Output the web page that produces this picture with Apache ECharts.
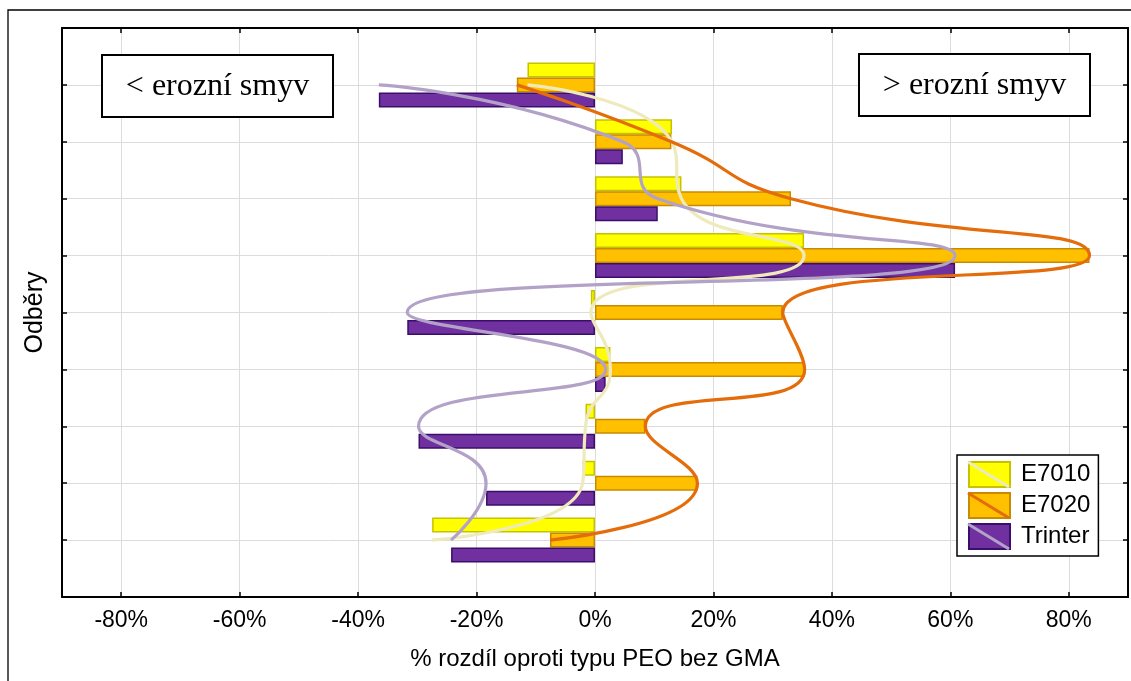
<!DOCTYPE html>
<html>
<head>
<meta charset="utf-8">
<script src="https://cdn.jsdelivr.net/npm/echarts@6/dist/echarts.min.js"></script>
<style>
html,body{margin:0;padding:0;background:#fff;}
#chart{width:1131px;height:681px;}
</style>
</head>
<body>
<div id="chart"></div>
<script>
// ---- data ----
const categories = ['1', '2', '3', '4', '5', '6', '7', '8', '9'];
const seriesNames = ['E7010', 'E7020', 'Trinter'];
const e7010 = [-11.4, 13.0, 14.6, 35.3, -0.7, 2.6, -1.6, -2.1, -27.5];
const e7020 = [-13.2, 12.9, 33.1, 83.5, 31.7, 35.4, 8.5, 17.3, -7.6];
const trinter = [-36.5, 4.7, 10.6, 60.8, -31.7, 1.8, -29.8, -18.4, -24.3];
const xTickStep = 20;
const xAxisTitle = '% rozdíl oproti typu PEO bez GMA';
const yAxisTitle = 'Odběry';
const noteLeft = '< erozní smyv';
const noteRight = '> erozní smyv';

// ---- styles ----
const barFill = ['#FFFF00', '#FFC000', '#7030A0'];
const barBorder = ['#C6C200', '#C88A00', '#3A0E6A'];
const curveColor = ['#EFEABB', '#E46C0A', '#B3A2C7'];
const SANS = '"Liberation Sans", Arial, sans-serif';
const SERIF = '"Liberation Serif", "Times New Roman", serif';

// category axis padded with an empty slot above and below
const yCats = ['top'].concat(categories, ['bottom']);
const pad = arr => ['-'].concat(arr, ['-']);
const allData = [e7010, e7020, trinter];

const chart = echarts.init(document.getElementById('chart'), null, {renderer: 'canvas'});

const legendLeft = 957, legendTop = 455, legendPad = [6, 8, 6, 11];
const iconW = 41, iconH = 25, itemPitch = 31, itemGap = 4;

const series = [];
allData.forEach((d, i) => {
  series.push({
    name: seriesNames[i], type: 'bar', data: pad(d),
    barWidth: 15, barGap: '0%', barCategoryGap: '0%',
    itemStyle: {color: barFill[i], borderColor: barBorder[i], borderWidth: 1.5},
    emphasis: {disabled: true}, z: 2
  });
});
allData.forEach((d, i) => {
  series.push({
    name: seriesNames[i], type: 'line', data: pad(d), smooth: 0.55,
    symbol: 'none', showSymbol: false,
    lineStyle: {color: curveColor[i], width: 3.2},
    itemStyle: {color: curveColor[i]},
    emphasis: {disabled: true}, z: 3
  });
});

const legendLines = seriesNames.map((n, i) => ({
  type: 'line', z: 100, silent: true,
  shape: {
    x1: legendLeft + legendPad[3], y1: legendTop + legendPad[0] + 1 + i * itemPitch,
    x2: legendLeft + legendPad[3] + iconW, y2: legendTop + legendPad[0] + 1 + i * itemPitch + iconH
  },
  style: {stroke: curveColor[i], lineWidth: 3}
}));

const option = {
  animation: false,
  backgroundColor: '#fff',
  grid: {left: 62, right: 3, top: 28, bottom: 84, containLabel: false},
  xAxis: [{
    type: 'value', position: 'bottom', min: -90, max: 90, splitNumber: 9,
    name: xAxisTitle, nameLocation: 'middle', nameGap: 50,
    nameTextStyle: {fontFamily: SANS, fontSize: 24, color: '#000'},
    axisLine: {show: true, onZero: false, lineStyle: {color: '#000', width: 2}},
    axisTick: {show: true, inside: true, length: 5, lineStyle: {color: '#000', width: 1.5}},
    axisLabel: {
      fontFamily: SANS, fontSize: 23, color: '#000', margin: 12,
      showMinLabel: false, showMaxLabel: false,
      formatter: v => (Math.round(v) % xTickStep === 0 ? Math.round(v) + '%' : '')
    },
    splitLine: {show: true, lineStyle: {color: '#DCDCDC', width: 1}}
  }, {
    type: 'value', position: 'top', min: -90, max: 90, splitNumber: 9,
    axisLine: {show: true, onZero: false, lineStyle: {color: '#000', width: 2}},
    axisTick: {show: true, inside: true, length: 5, lineStyle: {color: '#000', width: 1.5}},
    axisLabel: {show: false}, splitLine: {show: false}
  }],
  yAxis: [{
    type: 'category', data: yCats, inverse: true, boundaryGap: false, position: 'left',
    name: yAxisTitle, nameLocation: 'middle', nameGap: 14, nameRotate: 90,
    nameTextStyle: {fontFamily: SANS, fontSize: 25, color: '#000'},
    axisLine: {show: true, onZero: false, lineStyle: {color: '#000', width: 2}},
    axisTick: {show: true, inside: true, length: 5, lineStyle: {color: '#000', width: 1.5}},
    axisLabel: {show: false},
    splitLine: {show: true, lineStyle: {color: '#DCDCDC', width: 1}}
  }, {
    type: 'category', data: yCats, inverse: true, boundaryGap: false, position: 'right',
    axisLine: {show: true, onZero: false, lineStyle: {color: '#000', width: 2}},
    axisTick: {show: true, inside: true, length: 5, lineStyle: {color: '#000', width: 1.5}},
    axisLabel: {show: false}, splitLine: {show: false}
  }],
  legend: {
    data: seriesNames, orient: 'vertical', left: legendLeft, top: legendTop,
    padding: legendPad, itemWidth: iconW, itemHeight: iconH, itemGap: itemGap,
    icon: 'rect', selectedMode: false,
    borderColor: '#000', borderWidth: 1.5, backgroundColor: '#fff',
    textStyle: {fontFamily: SANS, fontSize: 24, lineHeight: 24, color: '#000', padding: [0, 0, 0, 6]}
  },
  graphic: [
    {type: 'rect', z: -10, silent: true, shape: {x: 8, y: 10, width: 1200, height: 800},
     style: {fill: 'none', stroke: '#000', lineWidth: 1.3}},
    {type: 'rect', z: 50, silent: true, shape: {x: 102, y: 55, width: 231, height: 62},
     style: {fill: '#fff', stroke: '#000', lineWidth: 2}},
    {type: 'text', z: 51, silent: true, x: 217.5, y: 87,
     style: {text: noteLeft, font: '32px ' + SERIF, fill: '#000', align: 'center', verticalAlign: 'middle'}},
    {type: 'rect', z: 50, silent: true, shape: {x: 859, y: 54, width: 231, height: 62},
     style: {fill: '#fff', stroke: '#000', lineWidth: 2}},
    {type: 'text', z: 51, silent: true, x: 974.5, y: 86,
     style: {text: noteRight, font: '32px ' + SERIF, fill: '#000', align: 'center', verticalAlign: 'middle'}}
  ].concat(legendLines),
  series: series
};
chart.setOption(option);
</script>
</body>
</html>
